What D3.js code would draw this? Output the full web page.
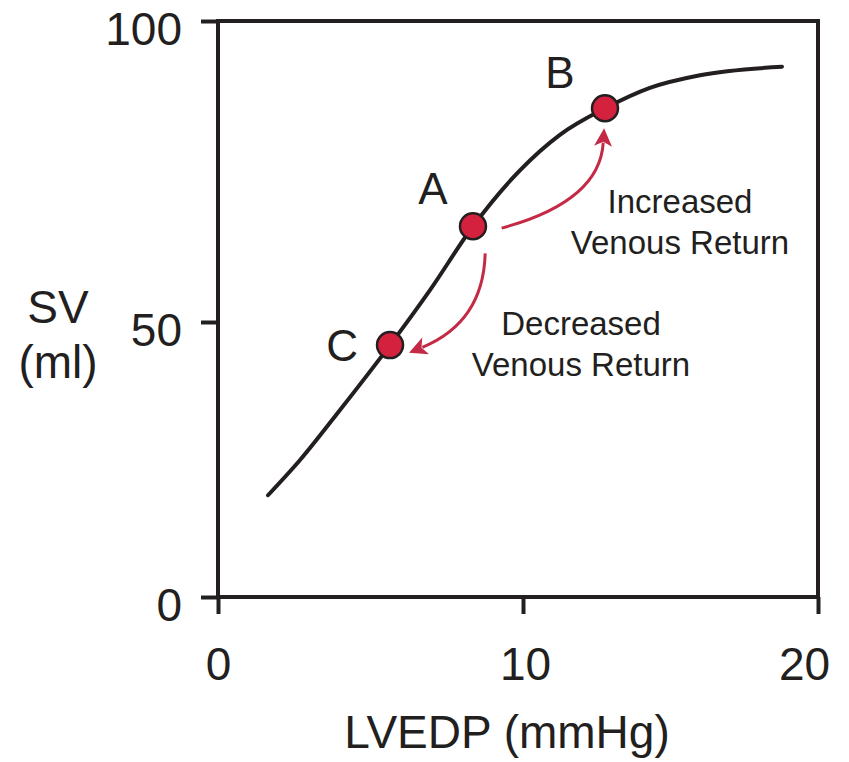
<!DOCTYPE html>
<html>
<head>
<meta charset="utf-8">
<script src="https://cdn.jsdelivr.net/npm/d3@7"></script>
<style>
  html, body { margin: 0; padding: 0; background: #ffffff; }
  svg text { font-family: "Liberation Sans", Arial, Helvetica, sans-serif; fill: #231f20; }
</style>
</head>
<body>
<svg id="chart" width="849" height="762"></svg>
<script>
// ---- data ----
const xTicks = [0, 10, 20];
const yTicks = [0, 50, 100];
const xTickLabels = ["0", "10", "20"];
const yTickLabels = ["0", "50", "100"];
const curveLVEDP = [1.64, 2.69, 4.0, 5.64, 6.95, 8.36, 9.9, 11.25, 12.78, 14.3, 16.0, 18.78];
const curveSV    = [18.5, 24.9, 34.0, 45.8, 55.3, 65.9, 75.2, 81.1, 85.5, 88.9, 91.0, 92.4];
const pointNames = ["C", "A", "B"];
const pointLVEDP = [5.64, 8.36, 12.78];
const pointSV    = [45.8, 65.9, 85.5];
const annotationLines = [["Increased", "Venous Return"], ["Decreased", "Venous Return"]];
const xTitle = "LVEDP (mmHg)";
const yTitleLines = ["SV", "(ml)"];

// ---- layout ----
const svg = d3.select("#chart");
const ink = "#231f20";
const red = "#c42a45";
const x = d3.scaleLinear().domain([0, 10, 20]).range([218, 523, 818]);
const y = d3.scaleLinear().domain([0, 50, 100]).range([597, 322, 21]);

// frame
svg.append("rect")
  .attr("x", x(0)).attr("y", y(100))
  .attr("width", x(20) - x(0)).attr("height", y(0) - y(100))
  .attr("fill", "none").attr("stroke", ink).attr("stroke-width", 4);

// axes
const xAxis = svg.append("g").attr("transform", `translate(0,${y(0)})`)
  .call(d3.axisBottom(x).tickValues(xTicks).tickFormat((d, i) => xTickLabels[i]).tickSize(17).tickPadding(33));
const yAxis = svg.append("g").attr("transform", `translate(${x(0)},0)`)
  .call(d3.axisLeft(y).tickValues(yTicks).tickFormat((d, i) => yTickLabels[i]).tickSize(17).tickPadding(19));
[xAxis, yAxis].forEach(g => {
  g.select(".domain").remove();
  g.selectAll(".tick line").attr("stroke", ink).attr("stroke-width", 4);
  g.selectAll(".tick text").attr("font-size", 46).attr("fill", ink)
    .style("font-family", '"Liberation Sans", Arial, sans-serif');
});
yAxis.selectAll(".tick text").attr("dy", "0.5em");
xAxis.selectAll(".tick text").attr("dx", d => d === 20 ? -14 : (d === 10 ? 2 : 0));

// axis titles
svg.append("text").attr("x", 507).attr("y", 748).attr("text-anchor", "middle")
  .attr("font-size", 46).text(xTitle);
svg.append("text").attr("x", 58).attr("y", 323).attr("text-anchor", "middle")
  .attr("font-size", 46).text(yTitleLines[0]);
svg.append("text").attr("x", 58).attr("y", 378).attr("text-anchor", "middle")
  .attr("font-size", 46).text(yTitleLines[1]);

// curve
const pts = curveLVEDP.map((v, i) => [v, curveSV[i]]);
svg.append("path")
  .attr("d", d3.line().x(d => x(d[0])).y(d => y(d[1])).curve(d3.curveMonotoneX)(pts))
  .attr("fill", "none").attr("stroke", ink).attr("stroke-width", 4).attr("stroke-linecap", "round");

// arrows (in data coordinates)
const defs = svg.append("defs");
defs.append("marker").attr("id", "ah").attr("viewBox", "0 0 10 10")
  .attr("refX", 2).attr("refY", 5).attr("markerWidth", 6.5).attr("markerHeight", 6)
  .attr("markerUnits", "strokeWidth").attr("orient", "auto")
  .append("path").attr("d", "M0,0 L10,5 L0,10 L2.5,5 Z").attr("fill", red);

const arrowUp = [[9.3, 65.6], [12.6, 70.0], [12.72, 79.8]];
const arrowDown = [[8.76, 61.4], [8.7, 50.0], [6.7, 45.4]];
function qpath(a) {
  const p = d3.path();
  p.moveTo(x(a[0][0]), y(a[0][1]));
  p.quadraticCurveTo(x(a[1][0]), y(a[1][1]), x(a[2][0]), y(a[2][1]));
  return p.toString();
}
[arrowUp, arrowDown].forEach(a => {
  svg.append("path").attr("d", qpath(a)).attr("fill", "none")
    .attr("stroke", red).attr("stroke-width", 3).attr("marker-end", "url(#ah)");
});

// annotation text
const annPos = [[680, 213], [581, 335]];
annotationLines.forEach((lines, i) => {
  lines.forEach((t, j) => {
    svg.append("text").attr("x", annPos[i][0]).attr("y", annPos[i][1] + j * 41)
      .attr("text-anchor", "middle").attr("font-size", 33).text(t);
  });
});

// points
svg.selectAll("circle.pt").data(pointNames).enter().append("circle")
  .attr("class", "pt")
  .attr("cx", (d, i) => x(pointLVEDP[i])).attr("cy", (d, i) => y(pointSV[i]))
  .attr("r", 13).attr("fill", "#d4213d").attr("stroke", ink).attr("stroke-width", 2.5);

// point labels
const labelOffsets = [[-48, 16], [-40, -22], [-45, -20]];
svg.selectAll("text.pl").data(pointNames).enter().append("text")
  .attr("class", "pl")
  .attr("x", (d, i) => x(pointLVEDP[i]) + labelOffsets[i][0])
  .attr("y", (d, i) => y(pointSV[i]) + labelOffsets[i][1])
  .attr("text-anchor", "middle").attr("font-size", 44).text(d => d);
</script>
</body>
</html>
